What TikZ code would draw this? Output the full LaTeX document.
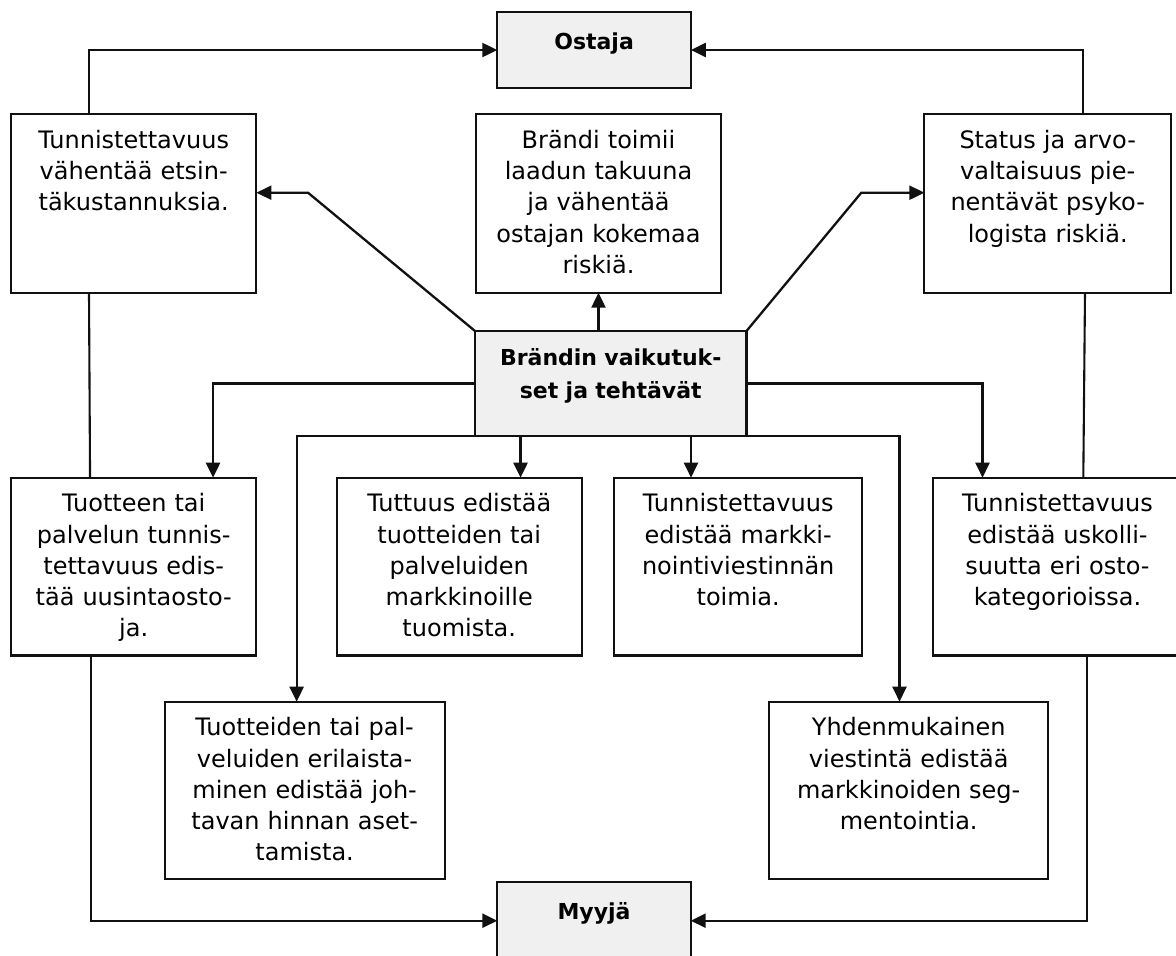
\documentclass[tikz,border=0pt]{standalone}
\usepackage{fontspec}
\setmainfont{DejaVu Sans}
\usetikzlibrary{arrows.meta,calc}
\definecolor{boxgray}{HTML}{F0F0F0}
\definecolor{ink}{HTML}{111111}
\tikzset{
  box/.style={draw=ink, line width=2.1pt, inner sep=0pt, outer sep=0pt, anchor=north west, fill=white},
  graybox/.style={box, fill=boxgray},
  txt/.style={inner sep=0pt, outer sep=0pt, anchor=north, align=center, font=\fontsize{24}{31.3}\selectfont},
  btxt/.style={txt, font=\bfseries\fontsize{22}{33}\selectfont},
  arr/.style={draw=ink, line width=2.3pt, -{Triangle[length=15pt,width=14pt]}},
  ln/.style={draw=ink, line width=2.1pt},
}
\newcommand{\fl}{\rule{0pt}{20pt}}
\begin{document}
\begin{tikzpicture}[x=1pt,y=-1pt]
\useasboundingbox (0,0) rectangle (1176,956);
\fill[white] (0,0) rectangle (1176,956);

% boxes
\node[graybox, minimum width=193.6pt, minimum height=76.6pt] (O) at (497.3,11.7) {};
\node[box, minimum width=245.4pt, minimum height=178.4pt] (A) at (11,114.3) {};
\node[box, minimum width=245pt, minimum height=178.4pt] (B) at (476,114.3) {};
\node[box, minimum width=246.6pt, minimum height=178.4pt] (C) at (924.4,114.3) {};
\node[graybox, minimum width=271.5pt, minimum height=105pt] (D) at (475,331) {};
\node[box, minimum width=245.3pt, minimum height=177.8pt] (E) at (11.1,477.7) {};
\node[box, minimum width=244.9pt, minimum height=177.8pt] (F) at (336.8,477.7) {};
\node[box, minimum width=247.6pt, minimum height=177.8pt] (G) at (614.4,477.7) {};
\node[box, minimum width=248.4pt, minimum height=177.8pt] (H) at (933.3,477.7) {};
\node[box, minimum width=280.1pt, minimum height=177.3pt] (I) at (164.6,701.7) {};
\node[box, minimum width=278.6pt, minimum height=177.3pt] (J) at (769.4,701.7) {};
\node[graybox, minimum width=193.4pt, minimum height=78pt] (M) at (497.3,881.7) {};

% texts
\node[btxt, text width=190pt] (Ot) at ($(O.north)+(0,17.6)$) {\fl Ostaja};
\node[txt, text width=240pt] (At) at ($(A.north)+(0,14)$) {\fl Tunnistettavuus\\vähentää etsin-\\täkustannuksia.};
\node[txt, text width=240pt] (Bt) at ($(B.north)+(0,14)$) {\fl Brändi toimii\\laadun takuuna\\ja vähentää\\ostajan kokemaa\\riskiä.};
\node[txt, text width=240pt] (Ct) at ($(C.north)+(0,14)$) {\fl Status ja arvo-\\valtaisuus pie-\\nentävät psyko-\\logista riskiä.};
\node[btxt, text width=266pt] (Dt) at ($(D.north)+(0,14)$) {\fl Brändin vaikutuk-\\set ja tehtävät};
\node[txt, text width=240pt] (Et) at ($(E.north)+(0,14)$) {\fl Tuotteen tai\\palvelun tunnis-\\tettavuus edis-\\tää uusintaosto-\\ja.};
\node[txt, text width=240pt] (Ft) at ($(F.north)+(0,14)$) {\fl Tuttuus edistää\\tuotteiden tai\\palveluiden\\markkinoille\\tuomista.};
\node[txt, text width=240pt] (Gt) at ($(G.north)+(0,14)$) {\fl Tunnistettavuus\\edistää markki-\\nointiviestinnän\\toimia.};
\node[txt, text width=240pt] (Ht) at ($(H.north)+(0,14)$) {\fl Tunnistettavuus\\edistää uskolli-\\suutta eri osto-\\kategorioissa.};
\node[txt, text width=275pt] (It) at ($(I.north)+(0,14)$) {\fl Tuotteiden tai pal-\\veluiden erilaista-\\minen edistää joh-\\tavan hinnan aset-\\tamista.};
\node[txt, text width=274pt] (Jt) at ($(J.north)+(0,14)$) {\fl Yhdenmukainen\\viestintä edistää\\markkinoiden seg-\\mentointia.};
\node[btxt, text width=190pt] (Mt) at ($(M.north)+(0,17.6)$) {\fl Myyjä};

% helper coordinates
\coordinate (dA) at (308,192.7);
\coordinate (dC) at (861.3,192.7);

% connectors to Ostaja
\draw[arr] ([xshift=-44.7pt]A.north) |- (O.west);
\draw[arr] ([xshift=35.3pt]C.north) |- (O.east);

% diagonals from centre
\draw[arr] (D.north west) -- (dA) -- (dA -| A.east);
\draw[arr] (D.north east) -- (dC) -- (dC -| C.west);

% up arrow to middle box
\draw[arr] (B.south |- D.north) -- (B.south);

% side branches
\draw[arr] (D.west) -| ([xshift=79.3pt]E.north);
\draw[arr] (D.east) -| ([xshift=-75pt]H.north);

% bus below centre
\draw[arr] (D.south west) -| ([xshift=-8pt]I.north);
\draw[arr] (D.south east) -| ([xshift=-9.2pt]J.north);
\draw[arr] ([xshift=61.3pt]F.north |- D.south) -- ([xshift=61.3pt]F.north);
\draw[arr] ([xshift=-47.2pt]G.north |- D.south) -- ([xshift=-47.2pt]G.north);

% vertical links
\draw[ln] ([xshift=-44.7pt]A.south) -- ([xshift=-43.7pt]E.north);
\draw[ln] ([xshift=37.3pt]C.south) -- ([xshift=25.8pt]H.north);

% to Myyja
\draw[arr] ([xshift=-42.7pt]E.south) |- (M.west);
\draw[arr] ([xshift=29.5pt]H.south) |- (M.east);
\end{tikzpicture}
\end{document}
